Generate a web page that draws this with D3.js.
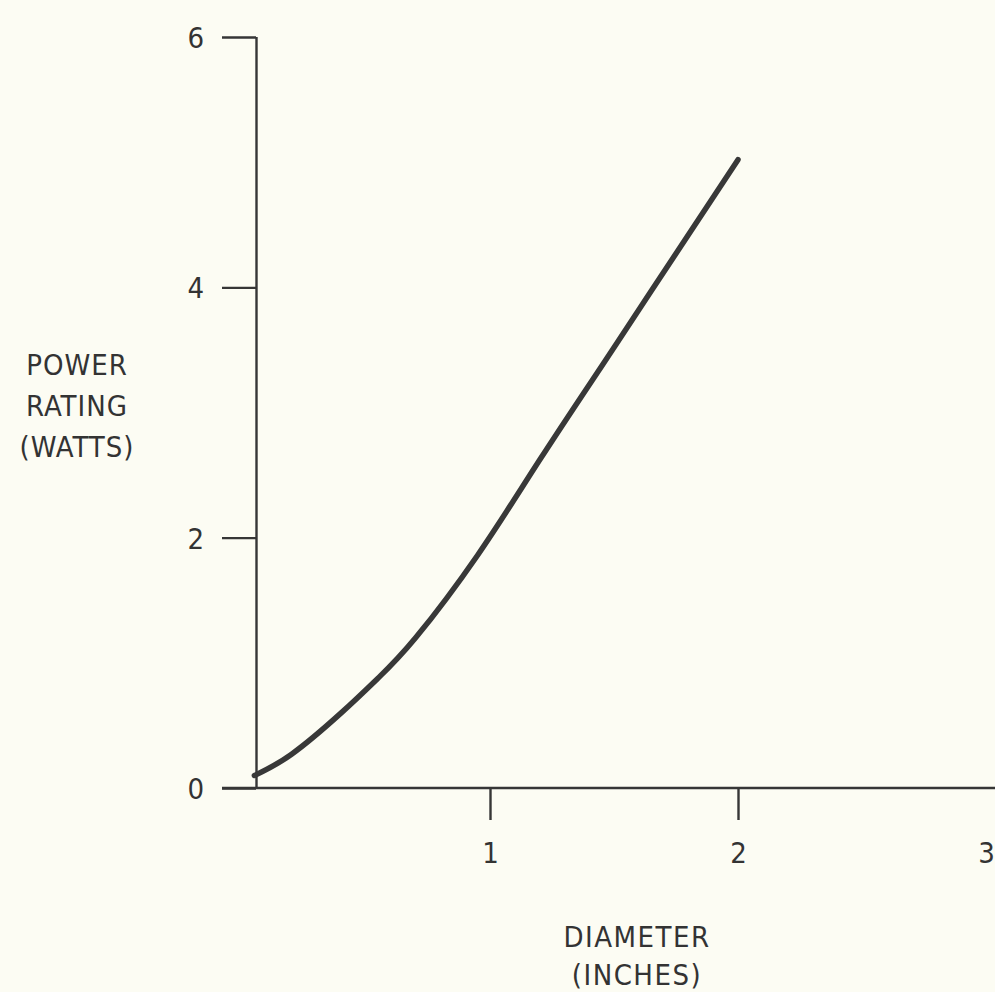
<!DOCTYPE html>
<html>
<head>
<meta charset="utf-8">
<script src="https://cdn.jsdelivr.net/npm/d3@7"></script>
<style>
  html, body { margin: 0; padding: 0; background: #fcfcf3; }
  svg { display: block; }
  text { font-family: "DejaVu Sans Condensed", "DejaVu Sans", sans-serif; font-stretch: condensed; fill: #333; }
</style>
</head>
<body>
<svg id="chart" width="995" height="992"></svg>
<script>
// Power rating of the part against its diameter
const diameterInches = [0.05, 0.2, 0.4, 0.55, 0.7, 0.95, 1.2, 1.45, 1.65, 2.0];
const powerWatts     = [0.1, 0.27, 0.6, 0.88, 1.2, 1.86, 2.62, 3.37, 3.97, 5.02];
const xTickValues = [1, 2, 3];
const yTickValues = [0, 2, 4, 6];
const yTitleLines = ["POWER", "RATING", "(WATTS)"];
const xTitleLines = ["DIAMETER", "(INCHES)"];

const ink = "#363636";
const svg = d3.select("#chart");

const x = d3.scaleLinear().domain([0, 3]).range([242, 986]);
const y = d3.scaleLinear().domain([0, 6]).range([788, 37]);
const axisX = 256;  // vertical axis sits just right of the x origin

// vertical axis with outward ticks
const yAxis = svg.append("g")
  .attr("transform", `translate(${axisX},0)`)
  .call(d3.axisLeft(y).tickValues(yTickValues).tickFormat(d3.format("d"))
    .tickSize(34).tickSizeOuter(0).tickPadding(18));
yAxis.select(".domain").attr("stroke", ink).attr("stroke-width", 2.4)
  .attr("d", `M0.5,${y(6)}V${y(0)}`);
yAxis.selectAll(".tick line").attr("stroke", ink).attr("stroke-width", 2.4);
yAxis.attr("font-family", null).attr("font-size", null);
yAxis.selectAll(".tick text").attr("font-size", 29).attr("fill", ink).attr("dy", "0.36em");

// horizontal axis line runs to the right edge
svg.append("line")
  .attr("x1", 222).attr("x2", 995)
  .attr("y1", y(0)).attr("y2", y(0))
  .attr("stroke", ink).attr("stroke-width", 2.4);

const xAxis = svg.append("g")
  .attr("transform", `translate(0,${y(0)})`)
  .call(d3.axisBottom(x).tickValues(xTickValues).tickFormat(d3.format("d"))
    .tickSize(32).tickSizeOuter(0).tickPadding(22));
xAxis.select(".domain").remove();
xAxis.attr("font-family", null).attr("font-size", null);
xAxis.selectAll(".tick line").attr("stroke", ink).attr("stroke-width", 2.4)
  .attr("display", d => d === 3 ? "none" : null);
xAxis.selectAll(".tick text").attr("font-size", 29).attr("fill", ink);

// the power curve
const pts = diameterInches.map((d, i) => [d, powerWatts[i]]);
const line = d3.line()
  .x(d => x(d[0]))
  .y(d => y(d[1]))
  .curve(d3.curveNatural);
svg.append("path")
  .datum(pts)
  .attr("d", line)
  .attr("fill", "none")
  .attr("stroke", "#383838")
  .attr("stroke-width", 5.5)
  .attr("stroke-linecap", "round");

// axis titles
svg.append("text")
  .attr("text-anchor", "middle")
  .attr("font-size", 29)
  .attr("letter-spacing", 1)
  .selectAll("tspan").data(yTitleLines).join("tspan")
  .attr("x", 77).attr("y", (d, i) => 375 + i * 41)
  .text(d => d);

svg.append("text")
  .attr("text-anchor", "middle")
  .attr("font-size", 29)
  .attr("letter-spacing", 1.5)
  .selectAll("tspan").data(xTitleLines).join("tspan")
  .attr("x", 637).attr("y", (d, i) => 947 + i * 38)
  .text(d => d);
</script>
</body>
</html>
